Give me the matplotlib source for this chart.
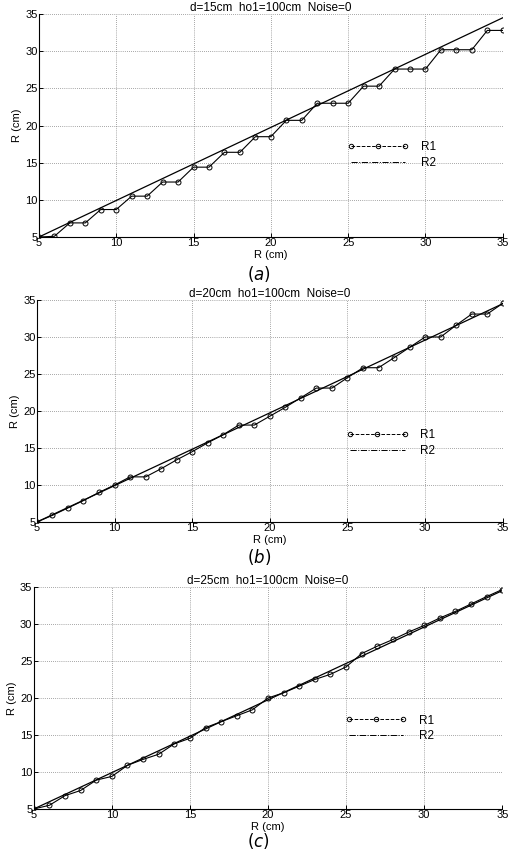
import numpy as np
import matplotlib
matplotlib.use("Agg")
import matplotlib.pyplot as plt
from matplotlib.lines import Line2D

plt.rcParams['font.family'] = ['Liberation Sans', 'DejaVu Sans']

r = list(range(5, 36))

r1_a = [5.0, 5.1, 6.9, 6.9, 8.7, 8.7, 10.5, 10.5, 12.4, 12.4, 14.4, 14.4, 16.4, 16.4,
        18.5, 18.5, 20.7, 20.7, 23.0, 23.0, 23.0, 25.3, 25.3, 27.6, 27.6, 27.6,
        30.2, 30.2, 30.2, 32.8, 32.8]
r1_b = [5.0, 5.9, 6.9, 7.9, 9.0, 10.0, 11.1, 11.1, 12.2, 13.4, 14.5, 15.7, 16.8, 18.1,
        18.1, 19.3, 20.5, 21.8, 23.1, 23.1, 24.5, 25.85, 25.85, 27.2, 28.6, 30.0,
        30.0, 31.6, 33.1, 33.1, 34.55]
r1_c = [5.0, 5.5, 6.8, 7.5, 8.9, 9.4, 10.9, 11.7, 12.4, 13.8, 14.55, 16.0, 16.8, 17.6,
        18.4, 20.0, 20.7, 21.6, 22.5, 23.2, 24.2, 26.0, 27.0, 27.9, 28.9, 29.8,
        30.8, 31.7, 32.7, 33.7, 34.65]

r2_x = [5, 35]
r2_y = [5, 34.5]

titles = ["d=15cm  ho1=100cm  Noise=0",
          "d=20cm  ho1=100cm  Noise=0",
          "d=25cm  ho1=100cm  Noise=0"]
tags = ["$(a)$", "$(b)$", "$(c)$"]
ticks = [5, 10, 15, 20, 25, 30, 35]

fs = 8.5

fig = plt.figure(figsize=(5.12, 8.52), dpi=100)

# axes boxes in figure fractions (left, bottom, width, height)
boxes = [(0.076, 0.7218, 0.906, 0.2617),
         (0.072, 0.3873, 0.910, 0.2606),
         (0.066, 0.0505, 0.915, 0.2606)]
tag_y = [0.678, 0.346, 0.013]
leg_y = [0.368, 0.356, 0.363]

for i, r1 in enumerate([r1_a, r1_b, r1_c]):
    ax = fig.add_axes(boxes[i])
    ax.plot(r, r1, color='black', lw=0.8, marker='o', ms=3.6, mfc='none', mew=0.7)
    ax.plot(r2_x, r2_y, color='black', lw=0.9)
    ax.set_xlim(5, 35)
    ax.set_ylim(5, 35)
    ax.set_xticks(ticks)
    ax.set_yticks(ticks)
    ax.tick_params(direction='in', length=3, width=0.7, labelsize=8, pad=1)
    ax.grid(True, linestyle=(0, (1, 2)), color='#555555', lw=0.5)
    for s in ['top', 'right']:
        ax.spines[s].set_visible(False)
    for s in ['left', 'bottom']:
        ax.spines[s].set_linewidth(0.8)
    ax.set_title(titles[i], fontsize=fs, pad=2)
    ax.set_xlabel("R (cm)", fontsize=8)
    ax.xaxis.set_label_coords(0.5, -0.058)
    ax.set_ylabel("R (cm)", fontsize=8, labelpad=2)

    handles = [Line2D([], [], color='black', lw=0.7, ls='--', marker='o', ms=3.2,
                      mfc='none', mew=0.7),
               Line2D([], [], color='black', lw=0.7, ls='-.')]
    ax.legend(handles, ["R1", "R2"], loc='center left', bbox_to_anchor=(0.665, leg_y[i]),
              frameon=False, fontsize=fs, handlelength=5.2, numpoints=3,
              handletextpad=1.0, labelspacing=0.3, borderpad=0, borderaxespad=0)

    fig.text(0.505, tag_y[i], tags[i], ha='center', va='center', fontsize=12)

fig.savefig("out.png", dpi=100)
plt.close(fig)
